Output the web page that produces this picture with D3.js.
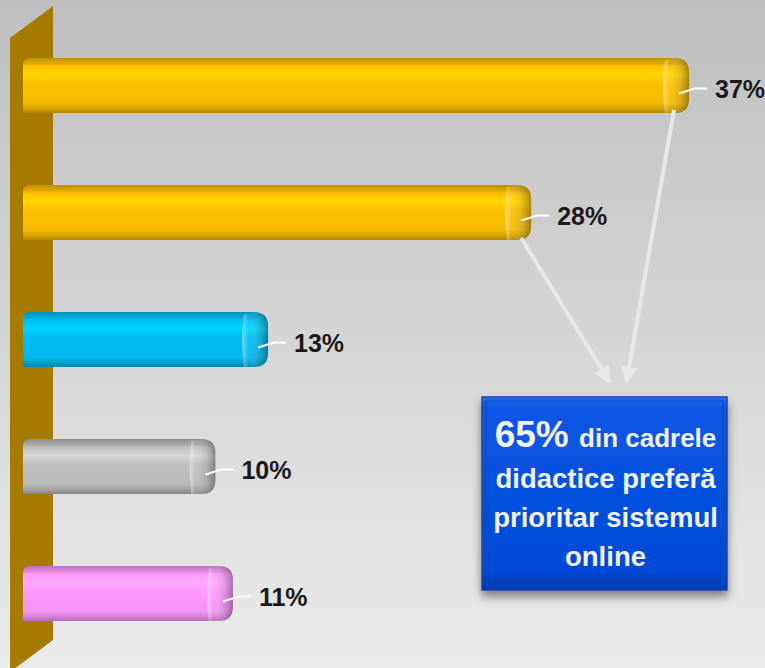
<!DOCTYPE html>
<html>
<head>
<meta charset="utf-8">
<script src="https://cdn.jsdelivr.net/npm/d3@7"></script>
<style>
  html, body { margin: 0; padding: 0; }
  svg { display: block; }
</style>
</head>
<body>
<svg id="svg" width="765" height="668"></svg>
<script>
// data
const categories = ['r1', 'r2', 'r3', 'r4', 'r5']
const values = [37, 28, 13, 10, 11]
const valueLabels = ['37%', '28%', '13%', '10%', '11%']
const barColors = ['#ffc000', '#ffc000', '#00bff5', '#c0c0c0', '#ff99ff']
const noteLines = ['din cadrele', 'didactice preferă', 'prioritar sistemul', 'online']
const noteHead = '65%'

const W = 765, H = 668
const svg = d3.select('#svg')
const defs = svg.append('defs')

// background
const bg = defs.append('linearGradient').attr('id', 'bg')
  .attr('x1', 0).attr('y1', 0).attr('x2', 0).attr('y2', 1)
bg.append('stop').attr('offset', '0%').attr('stop-color', '#bfbfbf')
bg.append('stop').attr('offset', '100%').attr('stop-color', '#ebebeb')
svg.append('rect').attr('width', W).attr('height', H).attr('fill', 'url(#bg)')

// the 3D wall on the left
svg.append('path')
  .attr('d', 'M10,38 L53,6 L53,640 L10,672 Z')
  .attr('fill', '#a67c00')

const barStart = 23
const x = d3.scaleLinear().domain([0, 37]).range([40, 689])
const y = d3.scaleBand().domain(categories).range([22, 657]).paddingInner(0.567).paddingOuter(0.283)

// gradients per bar
barColors.forEach((c, i) => {
  const base = d3.color(c)
  const g = defs.append('linearGradient').attr('id', 'bar' + i)
    .attr('x1', 0).attr('y1', 0).attr('x2', 0).attr('y2', 1)
  g.append('stop').attr('offset', '0%').attr('stop-color', base.darker(0.8))
  g.append('stop').attr('offset', '10%').attr('stop-color', base.darker(0.35))
  g.append('stop').attr('offset', '15%').attr('stop-color', base)
  g.append('stop').attr('offset', '30%').attr('stop-color', base.brighter(0.3))
  g.append('stop').attr('offset', '45%').attr('stop-color', base)
  g.append('stop').attr('offset', '82%').attr('stop-color', base.darker(0.12))
  g.append('stop').attr('offset', '92%').attr('stop-color', base.darker(0.5))
  g.append('stop').attr('offset', '100%').attr('stop-color', base.darker(1))
})
const cap = defs.append('linearGradient').attr('id', 'cap')
  .attr('x1', 0).attr('y1', 0).attr('x2', 1).attr('y2', 0)
cap.append('stop').attr('offset', '0%').attr('stop-color', '#fff').attr('stop-opacity', 0.45)
cap.append('stop').attr('offset', '25%').attr('stop-color', '#fff').attr('stop-opacity', 0.05)
cap.append('stop').attr('offset', '100%').attr('stop-color', '#000').attr('stop-opacity', 0.35)

const barPath = (x0, x1, y0, y1) => {
  const r = 14
  return `M${x0},${y0 + 7} Q${x0},${y0} ${x0 + 7},${y0} L${x1 - r},${y0} Q${x1},${y0} ${x1},${y0 + r}` +
    ` L${x1},${y1 - r} Q${x1},${y1} ${x1 - r},${y1} L${x0},${y1} Z`
}
const capPath = (x1, y0, y1) => {
  const r = 14, w = 24
  return `M${x1 - w},${y0 + 2} Q${x1 - w - 4},${(y0 + y1) / 2} ${x1 - w},${y1} L${x1 - r},${y1} Q${x1},${y1} ${x1},${y1 - r}` +
    ` L${x1},${y0 + r} Q${x1},${y0} ${x1 - r},${y0} Z`
}

const rows = categories.map((c, i) => ({ c, v: values[i], label: valueLabels[i], i }))

const bars = svg.selectAll('g.bar').data(rows).enter().append('g').attr('class', 'bar')
bars.append('path')
  .attr('d', d => barPath(barStart, x(d.v), y(d.c), y(d.c) + y.bandwidth()))
  .attr('fill', d => 'url(#bar' + d.i + ')')
bars.append('path')
  .attr('d', d => capPath(x(d.v), y(d.c), y(d.c) + y.bandwidth()))
  .attr('fill', 'url(#cap)')

// leader lines + labels
bars.append('path')
  .attr('d', d => {
    const xe = x(d.v), cy = y(d.c) + y.bandwidth() / 2
    return `M${xe - 10},${cy + 8} L${xe + 6},${cy + 3} L${xe + 18},${cy + 3}`
  })
  .attr('fill', 'none').attr('stroke', '#fff').attr('stroke-width', 2)
bars.append('text')
  .attr('x', d => x(d.v) + 26)
  .attr('y', d => y(d.c) + y.bandwidth() / 2 + 4)
  .attr('dy', '0.35em')
  .attr('font-family', 'Liberation Sans, Arial, sans-serif')
  .attr('font-weight', 'bold')
  .attr('font-size', 25)
  .attr('fill', '#1a1a1a')
  .text(d => d.label)

// note box
const box = { x: 482, y: 397, w: 245, h: 193 }
const shadow = defs.append('filter').attr('id', 'shadow')
  .attr('x', '-20%').attr('y', '-20%').attr('width', '140%').attr('height', '150%')
shadow.append('feDropShadow').attr('dx', 0).attr('dy', 6).attr('stdDeviation', 5)
  .attr('flood-color', '#000').attr('flood-opacity', 0.45)
const bg2 = defs.append('linearGradient').attr('id', 'boxg')
  .attr('x1', 0).attr('y1', 0).attr('x2', 0).attr('y2', 1)
bg2.append('stop').attr('offset', '0%').attr('stop-color', '#2a6ef0')
bg2.append('stop').attr('offset', '6%').attr('stop-color', '#0a58e6')
bg2.append('stop').attr('offset', '90%').attr('stop-color', '#0049d6')
bg2.append('stop').attr('offset', '100%').attr('stop-color', '#0035a8')

svg.append('rect')
  .attr('x', box.x).attr('y', box.y).attr('width', box.w).attr('height', box.h)
  .attr('fill', 'url(#boxg)').attr('stroke', '#1c46a8').attr('stroke-width', 1.5)
  .attr('filter', 'url(#shadow)')
svg.append('rect')
  .attr('x', box.x + 4).attr('y', box.y + 4).attr('width', box.w - 8).attr('height', box.h - 8)
  .attr('fill', 'none').attr('stroke', '#0a4cc8').attr('stroke-width', 3).attr('opacity', 0.6)

const cx = box.x + box.w / 2 + 1
const note = svg.append('text')
  .attr('text-anchor', 'middle')
  .attr('font-family', 'Liberation Sans, Arial, sans-serif')
  .attr('font-weight', 'bold')
  .attr('fill', '#f2f2f2')
const first = note.append('tspan').attr('x', cx).attr('y', 447)
first.append('tspan').attr('font-size', 37).text(noteHead + ' ')
first.append('tspan').attr('font-size', 26).text(noteLines[0])
noteLines.slice(1).forEach((t, i) => {
  note.append('tspan').attr('x', cx).attr('y', 488 + i * 39).attr('font-size', 27.5).text(t)
})

// arrows from the two biggest bars into the box
const arrowHead = defs.append('marker').attr('id', 'ah')
  .attr('viewBox', '0 0 10 10').attr('refX', 9).attr('refY', 5)
  .attr('markerWidth', 4.2).attr('markerHeight', 4.2).attr('orient', 'auto')
  .attr('markerUnits', 'strokeWidth')
arrowHead.append('path').attr('d', 'M0,0 L10,5 L0,10 Z').attr('fill', '#e8e8e8')

const arrows = [
  { from: [x(values[0]) - 15, y(categories[0]) + y.bandwidth() - 3], to: [cx + 21, box.y - 15] },
  { from: [x(values[1]) - 10, y(categories[1]) + y.bandwidth() - 2], to: [cx + 4, box.y - 15] }
]
svg.selectAll('line.arrow').data(arrows).enter().append('line')
  .attr('class', 'arrow')
  .attr('x1', d => d.from[0]).attr('y1', d => d.from[1])
  .attr('x2', d => d.to[0]).attr('y2', d => d.to[1])
  .attr('stroke', '#e8e8e8').attr('stroke-width', 4)
  .attr('marker-end', 'url(#ah)')
</script>
</body>
</html>
